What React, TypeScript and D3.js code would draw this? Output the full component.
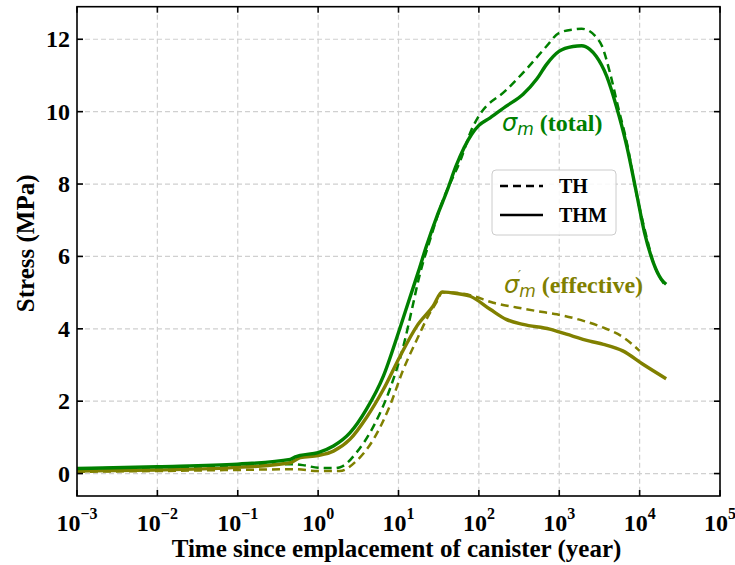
import React from "react";
import * as d3 from "d3";

// ---- data (time in years, stress in MPa) ----
const totalTHM_t = [1e-3, 1e-2, 1e-1, 0.45, 0.52, 0.6, 1, 1.55, 2.5, 4, 6.5, 10, 13.8, 17.8, 22, 30, 40, 52, 81, 100, 138, 219, 355, 525, 692, 1000, 1480, 1900, 2400, 2880, 3890, 5130, 6920, 9120, 11500, 14800, 18600, 21400];
const totalTHM_v = [0.14, 0.19, 0.26, 0.39, 0.46, 0.5, 0.58, 0.76, 1.13, 1.78, 2.7, 3.9, 4.85, 5.6, 6.25, 7.1, 7.8, 8.5, 9.37, 9.62, 9.83, 10.15, 10.48, 10.9, 11.3, 11.67, 11.8, 11.82, 11.72, 11.53, 10.98, 10.15, 9.05, 7.76, 6.66, 5.83, 5.37, 5.23];

const totalTH_t = [1e-3, 1e-2, 1e-1, 0.5, 0.7, 1, 1.6, 2, 3, 4.9, 7.8, 11.5, 15, 17.8, 25, 35, 60, 81, 100, 220, 400, 690, 1000, 1500, 1900, 2400, 2900, 3390, 4270, 5370, 7000, 9000, 12000, 15000, 20000];
const totalTH_v = [0.14, 0.17, 0.22, 0.26, 0.22, 0.16, 0.15, 0.2, 0.58, 1.31, 2.33, 3.52, 4.63, 5.37, 6.5, 7.5, 8.7, 9.5, 9.88, 10.6, 11.2, 11.8, 12.18, 12.27, 12.29, 12.22, 12.05, 11.82, 11.08, 10.15, 9.1, 7.8, 6.6, 5.8, 5.25];

const effTHM_t = [1e-3, 1e-2, 1e-1, 0.45, 0.6, 1, 1.55, 2.5, 4, 6.5, 10.5, 17, 27, 35, 44, 78, 138, 219, 355, 760, 1230, 2400, 3550, 6170, 11000, 21400];
const effTHM_v = [0.07, 0.1, 0.17, 0.3, 0.44, 0.5, 0.62, 0.95, 1.55, 2.33, 3.25, 4.08, 4.63, 5.02, 5.0, 4.9, 4.54, 4.26, 4.12, 3.99, 3.85, 3.66, 3.57, 3.39, 3.02, 2.62];

const effTH_t = [1e-3, 1e-2, 1e-1, 0.5, 1, 1.86, 3, 4.9, 7.8, 11.5, 17, 23.4, 30, 35, 44, 78, 151, 295, 525, 933, 2000, 3550, 6300, 10000];
const effTH_v = [0.05, 0.07, 0.1, 0.12, 0.07, 0.07, 0.35, 0.95, 1.87, 2.88, 3.71, 4.35, 4.75, 5.0, 5.0, 4.93, 4.72, 4.59, 4.49, 4.4, 4.22, 4.03, 3.76, 3.39];

const xTickExps = [-3, -2, -1, 0, 1, 2, 3, 4, 5];
const yTicks = [0, 2, 4, 6, 8, 10, 12];
const legendLabels = ["TH", "THM"];

const GREEN = "#008000";
const OLIVE = "#808000";
const SERIF = "'Liberation Serif', 'Times New Roman', serif";
const MATH = "'DejaVu Sans', sans-serif";

export default function App() {
  const W = 735, H = 565;
  const L = 77, R = 720, T = 6.7, B = 496;
  const x = d3.scaleLog().domain([1e-3, 1e5]).range([L, R]);
  const y = d3.scaleLinear().domain([-0.62, 12.9]).range([B, T]);
  const line = d3
    .line<[number, number]>()
    .x((d) => x(d[0]))
    .y((d) => y(d[1]))
    .curve(d3.curveMonotoneX);
  const mk = (t: number[], v: number[]) => line(t.map((ti, i) => [ti, v[i]] as [number, number])) || "";

  const series = [
    { d: mk(effTH_t, effTH_v), c: OLIVE, dash: "8,5", w: 2.5 },
    { d: mk(totalTH_t, totalTH_v), c: GREEN, dash: "8,5", w: 2.5 },
    { d: mk(effTHM_t, effTHM_v), c: OLIVE, dash: undefined, w: 3.4 },
    { d: mk(totalTHM_t, totalTHM_v), c: GREEN, dash: undefined, w: 3.4 },
  ];

  return (
    <svg width={W} height={H} style={{ display: "block", position: "absolute", left: 0, top: 0 }}>
      <rect x={0} y={0} width={W} height={H} fill="white" />
      {/* grid */}
      {xTickExps.slice(1, -1).map((e) => (
        <line key={"gx" + e} x1={x(Math.pow(10, e))} x2={x(Math.pow(10, e))} y1={T} y2={B} stroke="#d0d0d0" strokeWidth={1.2} strokeDasharray="5,3" />
      ))}
      {yTicks.map((v) => (
        <line key={"gy" + v} x1={L} x2={R} y1={y(v)} y2={y(v)} stroke="#d0d0d0" strokeWidth={1.2} strokeDasharray="5,3" />
      ))}
      {/* series */}
      {series.map((s, i) => (
        <path key={i} d={s.d} fill="none" stroke={s.c} strokeWidth={s.w} strokeDasharray={s.dash} strokeLinejoin="round" />
      ))}
      {/* frame */}
      <rect x={L} y={T} width={R - L} height={B - T} fill="none" stroke="black" strokeWidth={1.6} />
      {/* x ticks */}
      {xTickExps.map((e) => {
        const px = x(Math.pow(10, e));
        return (
          <g key={"xt" + e}>
            <line x1={px} x2={px} y1={B} y2={B - 6} stroke="black" strokeWidth={1.6} />
            <line x1={px} x2={px} y1={T} y2={T + 6} stroke="black" strokeWidth={1.6} />
            <text x={px} y={531} textAnchor="middle" fontFamily={SERIF} fontWeight="bold" fontSize={24}>
              10<tspan fontSize={16} dy={-12}>{e < 0 ? "\u2212" + Math.abs(e) : String(e)}</tspan>
            </text>
          </g>
        );
      })}
      {/* y ticks */}
      {yTicks.map((v) => (
        <g key={"yt" + v}>
          <line x1={L} x2={L + 6} y1={y(v)} y2={y(v)} stroke="black" strokeWidth={1.6} />
          <line x1={R} x2={R - 6} y1={y(v)} y2={y(v)} stroke="black" strokeWidth={1.6} />
          <text x={L - 7} y={y(v) + 8} textAnchor="end" fontFamily={SERIF} fontWeight="bold" fontSize={24}>
            {v}
          </text>
        </g>
      ))}
      {/* axis labels */}
      <text x={(L + R) / 2 - 2} y={557} textAnchor="middle" fontFamily={SERIF} fontWeight="bold" fontSize={25}>
        Time since emplacement of canister (year)
      </text>
      <text transform={`translate(34,${(T + B) / 2 - 8}) rotate(-90)`} textAnchor="middle" fontFamily={SERIF} fontWeight="bold" fontSize={25}>
        Stress (MPa)
      </text>
      {/* annotations */}
      <text x={502} y={131} fill={GREEN} fontSize={24}>
        <tspan fontFamily={MATH} fontStyle="italic">σ</tspan>
        <tspan fontFamily={MATH} fontStyle="italic" fontSize={17} dy={4}>m</tspan>
        <tspan fontFamily={SERIF} fontWeight="bold" dy={-4}> (total)</tspan>
      </text>
      <text x={518} y={279} fill={OLIVE} fontSize={13} fontFamily={MATH} fontStyle="italic">′</text>
      <text x={504} y={293} fill={OLIVE} fontSize={24}>
        <tspan fontFamily={MATH} fontStyle="italic">σ</tspan>
        <tspan fontFamily={MATH} fontStyle="italic" fontSize={17} dy={4}>m</tspan>
        <tspan fontFamily={SERIF} fontWeight="bold" dy={-4}> (effective)</tspan>
      </text>
      {/* legend */}
      <g>
        <rect x={492} y={170} width={124} height={65} rx={4} fill="white" fillOpacity={0.85} stroke="#cccccc" strokeWidth={1} />
        {legendLabels.map((lab, i) => (
          <g key={lab}>
            <line x1={500} x2={543} y1={186 + i * 29} y2={186 + i * 29} stroke="black" strokeWidth={2.5} strokeDasharray={i === 0 ? "8,5" : undefined} />
            <text x={559} y={193 + i * 29} fontFamily={SERIF} fontWeight="bold" fontSize={20}>
              {lab}
            </text>
          </g>
        ))}
      </g>
    </svg>
  );
}
